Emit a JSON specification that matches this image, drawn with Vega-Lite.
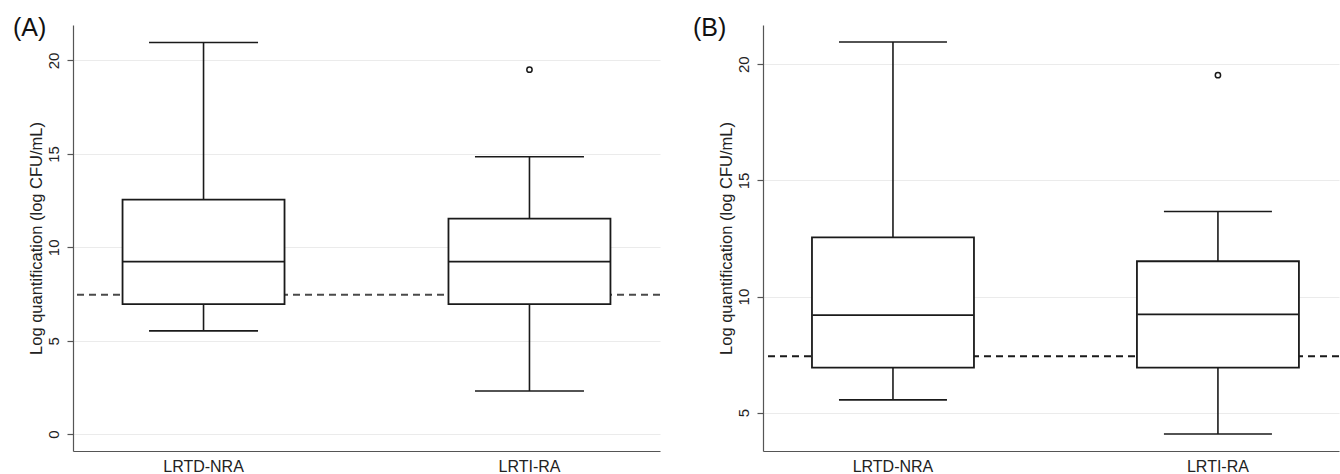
{
  "$schema": "https://vega.github.io/schema/vega-lite/v6.json",
  "background": "white",
  "padding": {"left": 13, "top": 16, "right": 0, "bottom": 0},
  "spacing": 32,
  "config": {
    "font": "Liberation Sans",
    "view": {"stroke": null},
    "tick": {"opacity": 1},
    "axis": {
      "domainColor": "#555555",
      "domainWidth": 1.2,
      "tickColor": "#555555",
      "tickWidth": 1.2,
      "labelColor": "#222222",
      "titleColor": "#222222",
      "labelFont": "Liberation Sans",
      "titleFont": "Liberation Sans",
      "titleFontWeight": "normal"
    },
    "axisY": {
      "labelAngle": 270,
      "labelAlign": "center",
      "labelBaseline": "bottom",
      "labelFontSize": 15,
      "labelPadding": 6,
      "tickSize": 6,
      "titleFontSize": 16.5,
      "titlePadding": 2,
      "grid": true,
      "gridColor": "#ebebeb",
      "gridWidth": 1.2
    },
    "axisX": {"ticks": false, "labelAngle": 0, "labelFontSize": 16, "labelPadding": 7, "grid": false},
    "title": {"font": "Liberation Sans", "fontWeight": "normal", "fontSize": 25, "color": "#111111", "anchor": "start", "frame": "bounds"}
  },
  "datasets": {
    "stats": [
      {"panel": "A", "group": "LRTD-NRA", "lower": 5.53, "q1": 6.96, "median": 9.24, "q3": 12.55, "upper": 20.96},
      {"panel": "A", "group": "LRTI-RA", "lower": 2.31, "q1": 6.96, "median": 9.24, "q3": 11.54, "upper": 14.85},
      {"panel": "B", "group": "LRTD-NRA", "lower": 5.55, "q1": 6.94, "median": 9.2, "q3": 12.55, "upper": 20.96},
      {"panel": "B", "group": "LRTI-RA", "lower": 4.08, "q1": 6.94, "median": 9.23, "q3": 11.52, "upper": 13.66}
    ],
    "outliers": [
      {"panel": "A", "group": "LRTI-RA", "value": 19.51},
      {"panel": "B", "group": "LRTI-RA", "value": 19.53}
    ],
    "cutoff": [
      {"panel": "A", "value": 7.46},
      {"panel": "B", "value": 7.43}
    ]
  },
  "hconcat": [
    {
      "title": {"text": "(A)", "dx": -15, "offset": -16},
      "width": 587,
      "height": 426,
      "encoding": {
        "x": {"field": "group", "type": "nominal", "sort": ["LRTD-NRA", "LRTI-RA"],
              "scale": {"type": "band", "paddingInner": 0.503, "paddingOuter": 0.152},
              "axis": {"title": null}}
      },
      "layer": [
        {"data": {"name": "cutoff"}, "transform": [{"filter": "datum.panel === 'A'"}],
         "mark": {"type": "rule", "color": "#4a4a4a", "strokeWidth": 2, "strokeDash": [7, 5]},
         "encoding": {"x": null, "y": {"field": "value", "type": "quantitative",
              "scale": {"domain": [-0.9, 21.9], "nice": false, "zero": false},
              "axis": {"title": "Log quantification (log CFU/mL)", "values": [0, 5, 10, 15, 20]}}}},
        {"data": {"name": "stats"}, "transform": [{"filter": "datum.panel === 'A'"}],
         "mark": {"type": "rule", "color": "#1a1a1a", "strokeWidth": 1.6},
         "encoding": {"y": {"field": "lower", "type": "quantitative", "title": "Log quantification (log CFU/mL)"}, "y2": {"field": "upper"}}},
        {"data": {"name": "stats"}, "transform": [{"filter": "datum.panel === 'A'"}],
         "mark": {"type": "bar", "fill": "white", "stroke": "#1a1a1a", "strokeWidth": 1.8},
         "encoding": {"y": {"field": "q1", "type": "quantitative", "title": "Log quantification (log CFU/mL)"}, "y2": {"field": "q3"}}},
        {"data": {"name": "stats"}, "transform": [{"filter": "datum.panel === 'A'"}],
         "mark": {"type": "tick", "color": "#1a1a1a", "thickness": 1.8, "size": 162, "opacity": 1},
         "encoding": {"y": {"field": "median", "type": "quantitative", "title": "Log quantification (log CFU/mL)"}}},
        {"data": {"name": "stats"}, "transform": [{"filter": "datum.panel === 'A'"}],
         "mark": {"type": "tick", "color": "#1a1a1a", "thickness": 1.6, "size": 109, "opacity": 1},
         "encoding": {"y": {"field": "upper", "type": "quantitative", "title": "Log quantification (log CFU/mL)"}}},
        {"data": {"name": "stats"}, "transform": [{"filter": "datum.panel === 'A'"}],
         "mark": {"type": "tick", "color": "#1a1a1a", "thickness": 1.6, "size": 109, "opacity": 1},
         "encoding": {"y": {"field": "lower", "type": "quantitative", "title": "Log quantification (log CFU/mL)"}}},
        {"data": {"name": "outliers"}, "transform": [{"filter": "datum.panel === 'A'"}],
         "mark": {"type": "point", "shape": "circle", "filled": false, "color": "#1a1a1a", "strokeWidth": 1.5, "size": 28, "opacity": 1},
         "encoding": {"y": {"field": "value", "type": "quantitative", "title": "Log quantification (log CFU/mL)"}}}
      ]
    },
    {
      "title": {"text": "(B)", "dx": -25, "offset": -16},
      "width": 576,
      "height": 426,
      "encoding": {
        "x": {"field": "group", "type": "nominal", "sort": ["LRTD-NRA", "LRTI-RA"],
              "scale": {"type": "band", "paddingInner": 0.5015, "paddingOuter": 0.137, "align": 0.55},
              "axis": {"title": null}}
      },
      "layer": [
        {"data": {"name": "cutoff"}, "transform": [{"filter": "datum.panel === 'B'"}],
         "mark": {"type": "rule", "color": "#1a1a1a", "strokeWidth": 2, "strokeDash": [7, 5]},
         "encoding": {"x": null, "y": {"field": "value", "type": "quantitative",
              "scale": {"domain": [3.35, 21.69], "nice": false, "zero": false},
              "axis": {"title": "Log quantification (log CFU/mL)", "values": [5, 10, 15, 20]}}}},
        {"data": {"name": "stats"}, "transform": [{"filter": "datum.panel === 'B'"}],
         "mark": {"type": "rule", "color": "#1a1a1a", "strokeWidth": 1.6},
         "encoding": {"y": {"field": "lower", "type": "quantitative", "title": "Log quantification (log CFU/mL)"}, "y2": {"field": "upper"}}},
        {"data": {"name": "stats"}, "transform": [{"filter": "datum.panel === 'B'"}],
         "mark": {"type": "bar", "fill": "white", "stroke": "#1a1a1a", "strokeWidth": 1.8},
         "encoding": {"y": {"field": "q1", "type": "quantitative", "title": "Log quantification (log CFU/mL)"}, "y2": {"field": "q3"}}},
        {"data": {"name": "stats"}, "transform": [{"filter": "datum.panel === 'B'"}],
         "mark": {"type": "tick", "color": "#1a1a1a", "thickness": 1.8, "size": 161, "opacity": 1},
         "encoding": {"y": {"field": "median", "type": "quantitative", "title": "Log quantification (log CFU/mL)"}}},
        {"data": {"name": "stats"}, "transform": [{"filter": "datum.panel === 'B'"}],
         "mark": {"type": "tick", "color": "#1a1a1a", "thickness": 1.6, "size": 108, "opacity": 1},
         "encoding": {"y": {"field": "upper", "type": "quantitative", "title": "Log quantification (log CFU/mL)"}}},
        {"data": {"name": "stats"}, "transform": [{"filter": "datum.panel === 'B'"}],
         "mark": {"type": "tick", "color": "#1a1a1a", "thickness": 1.6, "size": 108, "opacity": 1},
         "encoding": {"y": {"field": "lower", "type": "quantitative", "title": "Log quantification (log CFU/mL)"}}},
        {"data": {"name": "outliers"}, "transform": [{"filter": "datum.panel === 'B'"}],
         "mark": {"type": "point", "shape": "circle", "filled": false, "color": "#1a1a1a", "strokeWidth": 1.5, "size": 28, "opacity": 1},
         "encoding": {"y": {"field": "value", "type": "quantitative", "title": "Log quantification (log CFU/mL)"}}}
      ]
    }
  ]
}
